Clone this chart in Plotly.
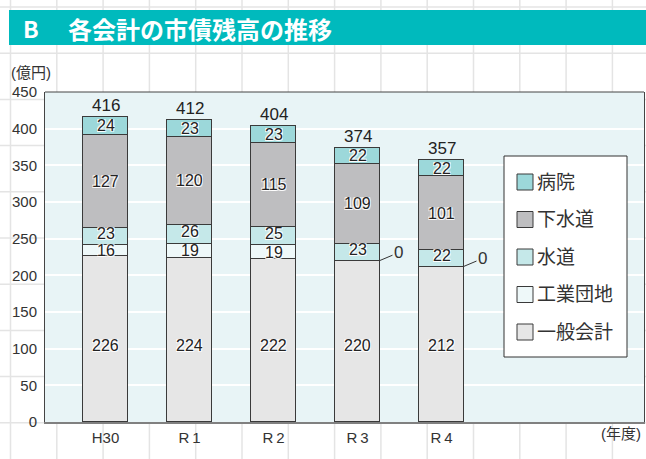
import plotly.graph_objects as go

# ---------------- data ----------------
years = ["H30", "R\u20091", "R\u20092", "R\u20093", "R\u20094"]
general = [226, 224, 222, 220, 212]      # 一般会計
industrial = [16, 19, 19, 0, 0]          # 工業団地
water = [23, 26, 25, 23, 22]             # 水道
sewer = [127, 120, 115, 109, 101]        # 下水道
hospital = [24, 23, 23, 22, 22]          # 病院
totals = [416, 412, 404, 374, 357]
y_ticks = [0, 50, 100, 150, 200, 250, 300, 350, 400, 450]
series_names = ["一般会計", "工業団地", "水道", "下水道", "病院"]
series_values = [general, industrial, water, sewer, hospital]
series_colors = ["#E6E6E6", "#EEF8F9", "#C5E8E9", "#BEBEC0", "#9CD8DA"]

# ---------------- layout constants ----------------
W, H = 646, 459
L, R, T, B = 45, 2, 92, 37
PW, PH = W - L - R, H - T - B
FONT = "Liberation Sans, Noto Sans CJK JP, sans-serif"
TXT = "#333333"
BAR_W = 0.524
GENERAL_LABEL_Y = 104
LABEL_SHIFT = [0, 0, 3, 0, 0]   # small upward nudge of the 水道 labels


def px_x(px):
    return (px - L) / PW


def px_y(py):
    return (H - B - py) / PH


x = list(range(len(years)))
fig = go.Figure()

for name, vals, col in zip(series_names, series_values, series_colors):
    fig.add_trace(go.Bar(
        x=x, y=vals, name=name, width=BAR_W,
        marker=dict(color=col, line=dict(color="#3a3a3a", width=1)),
        showlegend=False, hoverinfo="skip",
    ))

shadow = "1px 1px 1px #fff, -1px -1px 1px #fff, 1px -1px 1px #fff, -1px 1px 1px #fff"
annotations = []
for i in x:
    base = 0
    for s, vals in enumerate(series_values):
        v = vals[i]
        if v == 0:
            annotations.append(dict(
                x=i + BAR_W / 2, y=base, xref="x", yref="y", text="0",
                showarrow=True, arrowhead=0, arrowwidth=1, arrowcolor="#333",
                ax=19, ay=-8, font=dict(family=FONT, size=17, color=TXT)))
        else:
            yy = GENERAL_LABEL_Y if s == 0 else base + v / 2
            annotations.append(dict(
                x=i, y=yy, xref="x", yref="y", text=str(v), showarrow=False,
                borderpad=0, height=13, yshift=LABEL_SHIFT[s],
                font=dict(family=FONT, size=16, color="#222", shadow=shadow)))
        base += v
    annotations.append(dict(
        x=i, y=totals[i], xref="x", yref="y", text=str(totals[i]),
        showarrow=False, yanchor="bottom",
        font=dict(family=FONT, size=17, color="#222")))

# title & unit labels
annotations += [
    dict(x=px_x(21), y=px_y(28), xref="paper", yref="paper", text="<b>B</b>",
         showarrow=False, xanchor="left", yanchor="middle",
         font=dict(family="Noto Sans CJK JP", size=23, color="white")),
    dict(x=px_x(66), y=px_y(28), xref="paper", yref="paper",
         text="<b>各会計の市債残高の推移</b>",
         showarrow=False, xanchor="left", yanchor="middle",
         font=dict(family="Noto Sans CJK JP", size=24, color="white")),
    dict(x=px_x(9), y=px_y(73), xref="paper", yref="paper", text="(億円)",
         showarrow=False, xanchor="left", yanchor="middle",
         font=dict(family=FONT, size=15, color=TXT)),
    dict(x=px_x(599), y=px_y(433), xref="paper", yref="paper", text="(年度)",
         showarrow=False, xanchor="left", yanchor="middle",
         font=dict(family=FONT, size=15, color=TXT)),
]

shapes = []
grid_col = "#E4E4E4"
for k in range(14):
    gx = px_x(10.5 + 46.3 * k)
    shapes.append(dict(type="line", xref="paper", yref="paper", x0=gx, x1=gx,
                       y0=px_y(0), y1=px_y(H), layer="below",
                       line=dict(color=grid_col, width=1.5)))
for k in range(10):
    gy = px_y(7 + 46.2 * k)
    shapes.append(dict(type="line", xref="paper", yref="paper", x0=px_x(0), x1=px_x(W),
                       y0=gy, y1=gy, layer="below",
                       line=dict(color=grid_col, width=1.5)))
# title bar
shapes.append(dict(type="rect", xref="paper", yref="paper", x0=px_x(9), x1=px_x(W + 2),
                   y0=px_y(45), y1=px_y(10), layer="below",
                   fillcolor="#00BABD", line=dict(width=0)))
# plot area fill
shapes.append(dict(type="rect", xref="paper", yref="paper", x0=0, x1=1, y0=0, y1=1,
                   layer="below", fillcolor="#E8F4F6", line=dict(width=0)))
# top border
shapes.append(dict(type="line", xref="paper", yref="paper", x0=0, x1=1, y0=1, y1=1,
                   layer="above", line=dict(color="#444", width=1)))

# legend box (top entry = 病院, bottom = 一般会計)
LEG_X0, LEG_X1, LEG_Y0, LEG_Y1 = 504, 627, 156, 357
LEG_FIRST, LEG_STEP, SW = 182, 37.5, 16
shapes.append(dict(type="rect", xref="paper", yref="paper",
                   x0=px_x(LEG_X0), x1=px_x(LEG_X1), y0=px_y(LEG_Y1), y1=px_y(LEG_Y0),
                   layer="above", fillcolor="white", line=dict(color="#333", width=1)))
for j, (name, col) in enumerate(reversed(list(zip(series_names, series_colors)))):
    cy = LEG_FIRST + LEG_STEP * j
    shapes.append(dict(type="rect", xref="paper", yref="paper",
                       x0=px_x(517), x1=px_x(517 + SW),
                       y0=px_y(cy + SW / 2), y1=px_y(cy - SW / 2),
                       layer="above", fillcolor=col, line=dict(color="#3a3a3a", width=1)))
    annotations.append(dict(x=px_x(535), y=px_y(cy), xref="paper", yref="paper",
                            text=name, showarrow=False, xanchor="left", yanchor="middle",
                            font=dict(family=FONT, size=19, color=TXT)))

fig.update_layout(
    width=W, height=H,
    margin=dict(l=L, r=R, t=T, b=B, pad=0),
    paper_bgcolor="white", plot_bgcolor="rgba(0,0,0,0)",
    barmode="stack", bargap=0, showlegend=False,
    font=dict(family=FONT, color=TXT),
    shapes=shapes, annotations=annotations,
    xaxis=dict(range=[(L - 105.5) / 84, (W - R - 105.5) / 84],
               tickvals=x, ticktext=years, showgrid=False, zeroline=False,
               showline=True, linecolor="#808080", linewidth=2,
               ticks="", ticklabelstandoff=1,
               tickfont=dict(family=FONT, size=15, color=TXT)),
    yaxis=dict(range=[0, 450], tickvals=y_ticks, showgrid=True,
               gridcolor="white", gridwidth=2, zeroline=False,
               showline=True, mirror=True, linecolor="#444", linewidth=1,
               ticks="", ticklabelstandoff=4,
               tickfont=dict(family=FONT, size=15, color=TXT)),
)

fig.write_html("out.html", config={"displayModeBar": False},
               post_script="document.body.style.margin='0';")
